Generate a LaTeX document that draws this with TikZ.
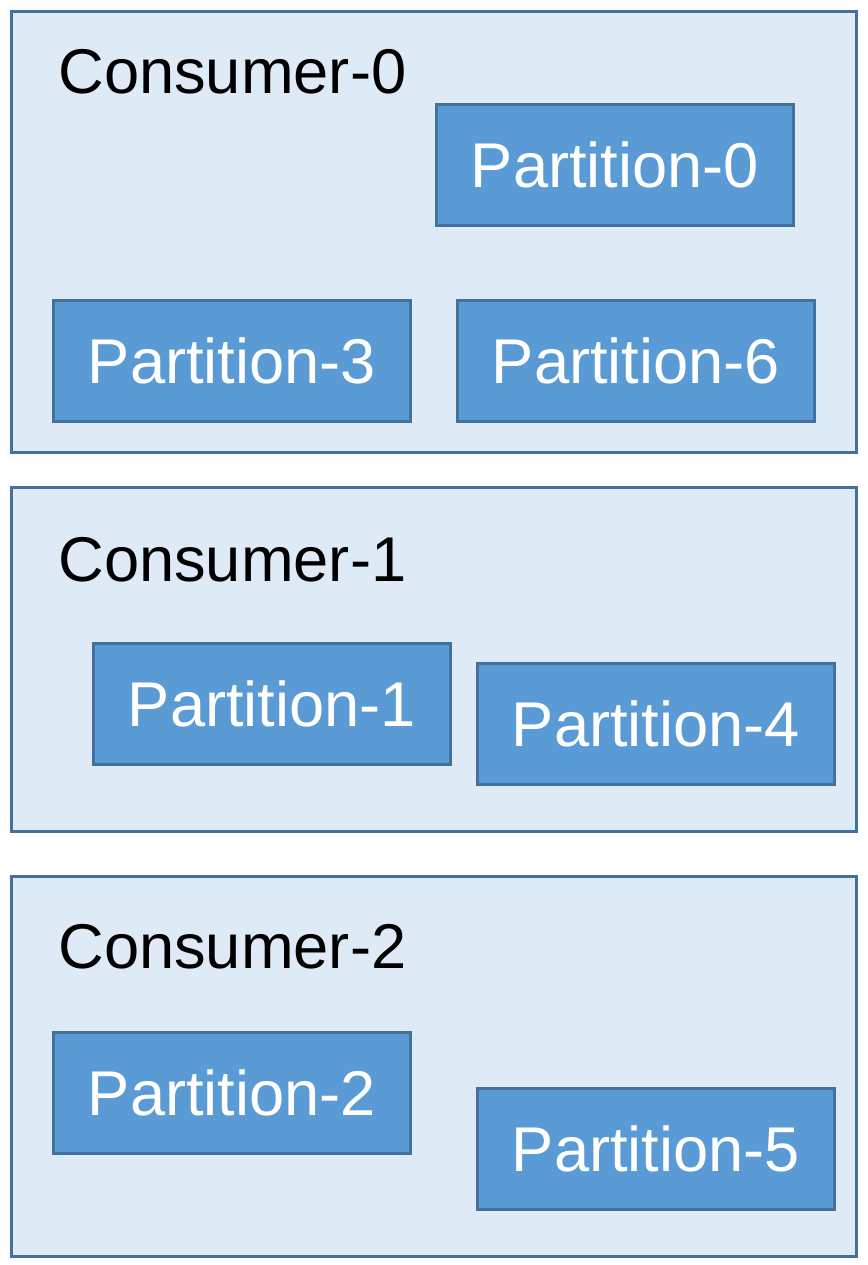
\documentclass[tikz,border=0pt]{standalone}
\usepackage{fontspec}
\setmainfont{Liberation Sans}
\usetikzlibrary{positioning}
\definecolor{GroupEdge}{RGB}{65,113,156}
\definecolor{GroupBand}{RGB}{222,235,247}
\definecolor{PartBlue}{RGB}{91,155,213}
\tikzset{
  groupbox/.style={draw=GroupEdge,fill=GroupBand,line width=1.7pt,anchor=north west,
    minimum width=16.9cm,inner sep=0pt},
  partbox/.style={draw=GroupEdge,fill=PartBlue,line width=1.7pt,anchor=north west,
    minimum width=7.14cm,minimum height=2.42cm,inner sep=0pt,text=white,
    font=\fontsize{36}{43}\selectfont},
  grouplabel/.style={anchor=base west,inner sep=0pt,font=\fontsize{36}{43}\selectfont}
}

\begin{document}
\begin{tikzpicture}[x=0.02cm,y=-0.02cm]
  \useasboundingbox (0,0) rectangle (867,1265);
  % consumer groups
  \node[groupbox,minimum height=8.83cm] (cons0) at (10,10) {};
  \node[groupbox,minimum height=6.89cm] (cons1) at (10,486) {};
  \node[groupbox,minimum height=7.61cm] (cons2) at (10,875) {};
  \node[grouplabel] (lab0) at (58,93) {Consumer-0};
  \node[grouplabel] (lab1) at (58,581) {Consumer-1};
  \node[grouplabel] (lab2) at (58,968) {Consumer-2};
  % partitions
  \node[partbox] (part0) at (435,103) {Partition-0};
  \node[partbox] (part3) at (52,299) {Partition-3};
  \node[partbox] (part6) at (456,299) {Partition-6};
  \node[partbox] (part1) at (92,642) {Partition-1};
  \node[partbox] (part4) at (476,662) {Partition-4};
  \node[partbox] (part2) at (52,1031) {Partition-2};
  \node[partbox] (part5) at (476,1087) {Partition-5};
\end{tikzpicture}
\end{document}
